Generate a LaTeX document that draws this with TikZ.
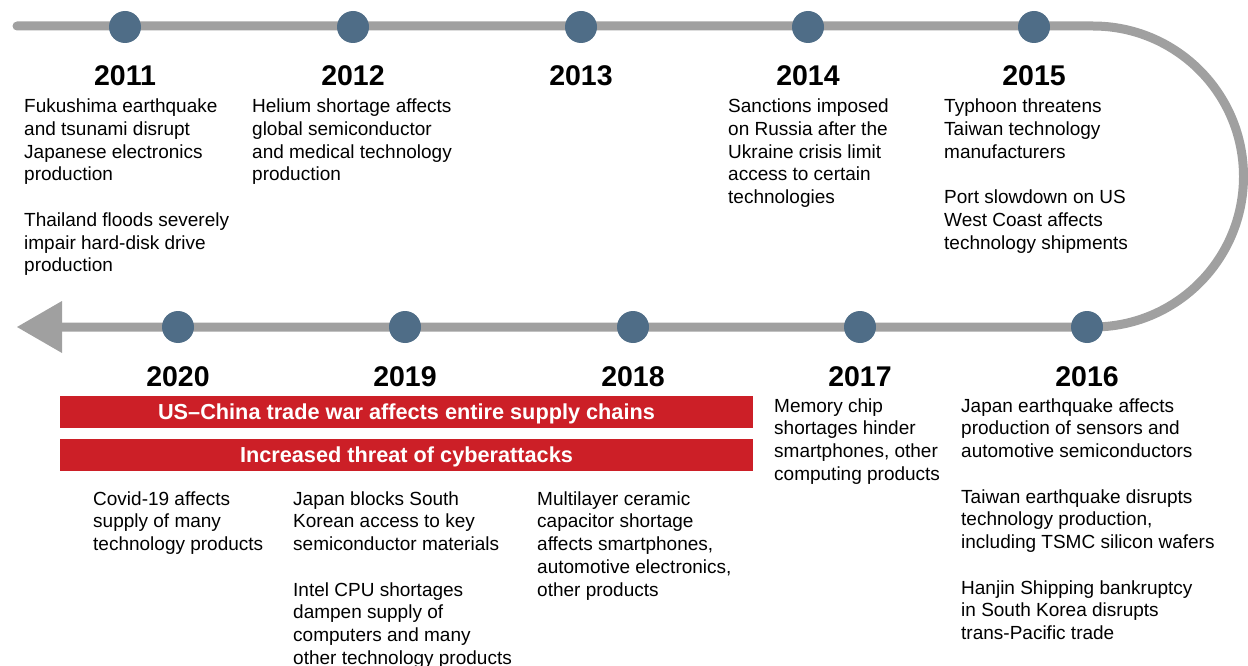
\documentclass[tikz,border=0pt]{standalone}
\usepackage{fontspec}
\setmainfont{Liberation Sans}
\usetikzlibrary{calc}

\definecolor{dotblue}{HTML}{4F6D87}
\definecolor{linegray}{HTML}{A0A0A0}
\definecolor{barred}{HTML}{CC1F27}

\begin{document}
\begin{tikzpicture}[x=1pt,y=-1pt]
\tikzstyle{dot}=[circle,fill=dotblue,minimum size=32pt,inner sep=0]
\tikzstyle{year}=[anchor=base,inner sep=0,font=\fontsize{28.5}{30}\selectfont\bfseries]
\tikzstyle{event}=[anchor=north west,align=left,inner sep=0,font=\fontsize{19}{22.75}\selectfont]
\tikzstyle{bar}=[fill=barred,text=white,minimum width=693pt,minimum height=32pt,inner sep=0,text height=15.5pt,text depth=0pt,font=\fontsize{21.7}{24}\selectfont\bfseries]
\useasboundingbox (0,0) rectangle (1248,666);

% track
\coordinate (start) at (17,26);
\coordinate (turn) at (1093,26);
\coordinate (tip) at (17,327);
\coordinate (head) at (62,327);
\draw[linegray,line width=9pt,line cap=round] (start) -- (turn) arc (-90:90:150.5) -- (head);
\fill[linegray] (tip) -- ($(head)+(0,-26)$) -- ($(head)+(0,26)$) -- cycle;

\foreach \yr/\x in {2011/125,2012/353,2013/581,2014/808,2015/1034}{
  \node[dot] (c\yr) at (\x,27) {};
  \node[year] (y\yr) at (\x,86) {\yr};
}
\foreach \yr/\x in {2020/178,2019/405,2018/633,2017/860,2016/1087}{
  \node[dot] (c\yr) at (\x,327) {};
  \node[year] (y\yr) at (\x,386) {\yr};
}

% events, top row
\node[event] (t2011) at (24,96.6) {\strut Fukushima earthquake\\and tsunami disrupt\\Japanese electronics\\production\\[22.75pt]Thailand floods severely\\impair hard-disk drive\\production};
\node[event] (t2012) at (252,96.6) {\strut Helium shortage affects\\global semiconductor\\and medical technology\\production};
\node[event] (t2014) at (728,96.6) {\strut Sanctions imposed\\on Russia after the\\Ukraine crisis limit\\access to certain\\technologies};
\node[event] (t2015) at (944,96.6) {\strut Typhoon threatens\\Taiwan technology\\manufacturers\\[22.75pt]Port slowdown on US\\West Coast affects\\technology shipments};

% events, bottom row
\node[event] (t2016) at (961,396) {\strut Japan earthquake affects\\production of sensors and\\automotive semiconductors\\[22.75pt]Taiwan earthquake disrupts\\technology production,\\including TSMC silicon wafers\\[22.75pt]Hanjin Shipping bankruptcy\\in South Korea disrupts\\trans-Pacific trade};
\node[event] (t2017) at (774,396) {\strut Memory chip\\shortages hinder\\smartphones, other\\computing products};

\node[bar] (war) at (406.5,412) {US–China trade war affects entire supply chains};
\node[bar] (cyber) at (406.5,455) {Increased threat of cyberattacks};

\node[event] (t2020) at (93,489) {\strut Covid-19 affects\\supply of many\\technology products};
\node[event] (t2019) at (293,489) {\strut Japan blocks South\\Korean access to key\\semiconductor materials\\[22.75pt]Intel CPU shortages\\dampen supply of\\computers and many\\other technology products};
\node[event] (t2018) at (537,489) {\strut Multilayer ceramic\\capacitor shortage\\affects smartphones,\\automotive electronics,\\other products};
\end{tikzpicture}
\end{document}
